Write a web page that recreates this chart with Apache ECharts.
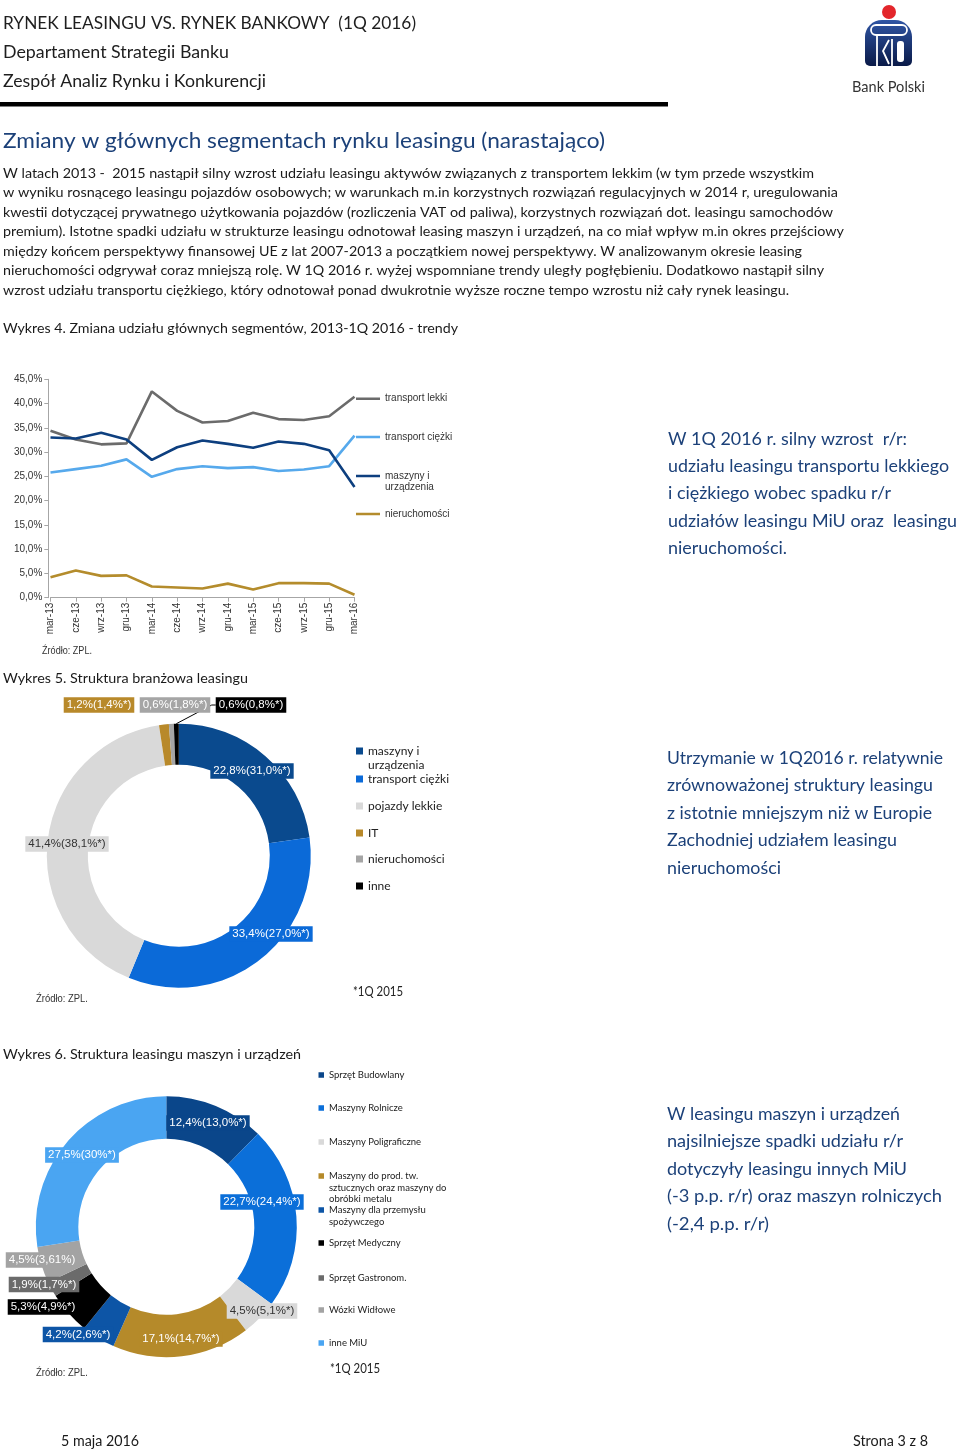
<!DOCTYPE html>
<html>
<head>
<meta charset="utf-8">
<script src="https://cdn.jsdelivr.net/npm/echarts@6/dist/echarts.min.js"></script>
<style>
html,body{margin:0;padding:0;background:#fff;}
.layer{position:absolute;left:0;top:0;width:960px;height:1453px;}
</style>
</head>
<body>
<div id="page" class="layer"></div>
<div id="lineChart" class="layer"></div>
<div id="pie1" class="layer"></div>
<div id="pie2" class="layer"></div>
<script>
// ---------------- DATA ----------------
const categories = ['mar-13','cze-13','wrz-13','gru-13','mar-14','cze-14','wrz-14','gru-14','mar-15','cze-15','wrz-15','gru-15','mar-16'];
const transportLekki    = [34.4,32.6,31.6,31.8,42.5,38.5,36.1,36.4,38.1,36.8,36.6,37.4,41.4];
const transportCiezki   = [25.8,26.5,27.2,28.5,24.9,26.5,27.1,26.7,26.9,26.1,26.4,27.1,33.4];
const maszynyUrzadzenia = [33.0,32.8,34.0,32.6,28.4,31.0,32.4,31.7,30.9,32.2,31.7,30.4,22.8];
const nieruchomosci     = [4.2,5.6,4.5,4.6,2.3,2.1,1.9,2.9,1.7,3.0,3.0,2.9,0.6];
const lineSeriesNames = ['transport lekki','transport ciężki','maszyny i urządzenia','nieruchomości'];
const yAxisMin = 0, yAxisMax = 45, yAxisStep = 5;

const pie1Names  = ['maszyny i\nurządzenia','transport ciężki','pojazdy lekkie','IT','nieruchomości','inne'];
const pie1Values = [22.8,33.4,41.4,1.2,0.6,0.6];
const pie1Prev   = ['31,0%*','27,0%*','38,1%*','1,4%*','1,8%*','0,8%*'];

const pie2Names  = ['Sprzęt Budowlany','Maszyny Rolnicze','Maszyny Poligraficzne',
  'Maszyny do prod. tw.\nsztucznych oraz maszyny do\nobróbki metalu',
  'Maszyny dla przemysłu\nspożywczego','Sprzęt Medyczny','Sprzęt Gastronom.','Wózki Widłowe','inne MiU'];
const pie2Values = [12.4,22.7,4.5,17.1,4.2,5.3,1.9,4.5,27.5];
const pie2Prev   = ['13,0%*','24,4%*','5,1%*','14,7%*','2,6%*','4,9%*','1,7%*','3,61%','30%*'];

// ---------------- STYLES / LAYOUT ----------------
const NAVY_TXT = '#1c4179';
const lineColors = ['#6b6b6b','#56a9ec','#0d3f7f','#b48c2c'];
const pie1Colors = ['#0a4a8e','#0b6ad8','#d9d9d9','#b8892a','#a5a5a5','#000000'];
const pie1LabelColors = ['#fff','#fff','#333','#fff','#fff','#fff'];
const pie2Colors = ['#0a468a','#0b6fd9','#d9d9d9','#b58a2a','#0d55a6','#000000','#6b6b6b','#a3a3a3','#4aa5f2'];
const pie2LabelColors = ['#fff','#fff','#333','#fff','#fff','#fff','#fff','#fff','#fff'];
const pie1LabelPos = [[252,771],[271,934],[67,844],[99,705],[175,705],[251,705]];
const pie2LabelPos = [[208,1123],[262,1202],[262,1311],[181,1339],[78,1334.5],[43,1307],[44,1284.5],[42,1260],[82,1155]];
const pie1LegendTop = [751,779,806,833,859,886];          // first-line centres
const pie2LegendTop = [1075,1108,1142,1176,1210,1243,1278,1310,1343];
const lineLegendTop = [398.7,437,476,514];

const measureCtx = document.createElement('canvas').getContext('2d');
function txt(text, x, y, size, color, width, opts) {
  opts = opts || {};
  const family = opts.family || 'Lato';
  const font = (opts.weight || 'normal') + ' ' + size + 'px ' + family;
  measureCtx.font = font;
  const mw = measureCtx.measureText(text).width;
  const sx = width ? width / mw : 1;
  const align = opts.align || 'left';
  return {type:'text', x:x, y:y, scaleX:sx, silent:true,
    style:{text:text, font:font, fill:color, align:align, verticalAlign:'middle', textAlign:align, textVerticalAlign:'middle'}};
}

// ---------------- PAGE (texts, logo) ----------------
const paragraph = [
  ['W latach 2013 -  2015 nastąpił silny wzrost udziału leasingu aktywów związanych z transportem lekkim (w tym przede wszystkim', 811],
  ['w wyniku rosnącego leasingu pojazdów osobowych; w warunkach m.in korzystnych rozwiązań regulacyjnych w 2014 r, uregulowania', 835],
  ['kwestii dotyczącej prywatnego użytkowania pojazdów (rozliczenia VAT od paliwa), korzystnych rozwiązań dot. leasingu samochodów', 830],
  ['premium). Istotne spadki udziału w strukturze leasingu odnotował leasing maszyn i urządzeń, na co miał wpływ m.in okres przejściowy', 841],
  ['między końcem perspektywy finansowej UE z lat 2007-2013 a początkiem nowej perspektywy. W analizowanym okresie leasing', 799],
  ['nieruchomości odgrywał coraz mniejszą rolę. W 1Q 2016 r. wyżej wspomniane trendy uległy pogłębieniu. Dodatkowo nastąpił silny', 821],
  ['wzrost udziału transportu ciężkiego, który odnotował ponad dwukrotnie wyższe roczne tempo wzrostu niż cały rynek leasingu.', 786]
];
const side1 = [['W 1Q 2016 r. silny wzrost  r/r:',239],['udziału leasingu transportu lekkiego',281],['i ciężkiego wobec spadku r/r',223],['udziałów leasingu MiU oraz  leasingu',289],['nieruchomości.',119]];
const side2 = [['Utrzymanie w 1Q2016 r. relatywnie',276],['zrównoważonej struktury leasingu',266],['z istotnie mniejszym niż w Europie',265],['Zachodniej udziałem leasingu',230],['nieruchomości',114]];
const side3 = [['W leasingu maszyn i urządzeń',233],['najsilniejsze spadki udziału r/r',236],['dotyczyły leasingu innych MiU',240],['(-3 p.p. r/r) oraz maszyn rolniczych',275],['(-2,4 p.p. r/r)',102]];

const els = [];
els.push(txt('RYNEK LEASINGU VS. RYNEK BANKOWY  (1Q 2016)', 3, 24, 17, '#1e1e1e', 413));
els.push(txt('Departament Strategii Banku', 3, 53, 17, '#1e1e1e', 226));
els.push(txt('Zespół Analiz Rynku i Konkurencji', 3, 82, 17, '#1e1e1e', 263));
els.push({type:'rect', silent:true, shape:{x:0, y:102, width:668, height:4.5}, style:{fill:'#000'}});
// logo
els.push({type:'circle', silent:true, shape:{cx:889, cy:12, r:7}, style:{fill:'#e3262b'}});
els.push({type:'rect', silent:true, shape:{x:865, y:20, width:47, height:46, r:[17,17,5,5]},
  style:{fill:{type:'linear', x:0, y:0, x2:0, y2:1, colorStops:[{offset:0,color:'#2f55a4'},{offset:1,color:'#0a1a48'}]}}});
els.push({type:'rect', silent:true, shape:{x:871, y:25, width:36, height:10, r:5}, style:{fill:'none', stroke:'#fff', lineWidth:1.8}});
els.push({type:'line', silent:true, shape:{x1:877, y1:35, x2:877, y2:66}, style:{stroke:'#fff', lineWidth:1.8}});
els.push({type:'line', silent:true, shape:{x1:892, y1:39, x2:892, y2:66}, style:{stroke:'#fff', lineWidth:1.8}});
els.push({type:'polyline', silent:true, shape:{points:[[889,40],[883,51],[889,64]]}, style:{fill:'none', stroke:'#fff', lineWidth:1.8}});
els.push({type:'rect', silent:true, shape:{x:897, y:41, width:7, height:21, r:3}, style:{fill:'#fff'}});
els.push(txt('Bank Polski', 852, 87, 15, '#333', 73));
// title + paragraph
els.push(txt('Zmiany w głównych segmentach rynku leasingu (narastająco)', 3, 141, 21, NAVY_TXT, 602));
paragraph.forEach((p, i) => els.push(txt(p[0], 3, 173.3 + i * 19.5, 14, '#1a1a1a', p[1])));
els.push(txt('Wykres 4. Zmiana udziału głównych segmentów, 2013-1Q 2016 - trendy', 3, 328, 14, '#1a1a1a', 455));
els.push(txt('Wykres 5. Struktura branżowa leasingu', 3, 678, 14, '#1a1a1a', 245));
els.push(txt('Wykres 6. Struktura leasingu maszyn i urządzeń', 3, 1054, 14, '#1a1a1a', 298));
side1.forEach((s, i) => els.push(txt(s[0], 668, 439 + i * 27.3, 18, NAVY_TXT, s[1])));
side2.forEach((s, i) => els.push(txt(s[0], 667, 758 + i * 27.5, 18, NAVY_TXT, s[1])));
side3.forEach((s, i) => els.push(txt(s[0], 667, 1114 + i * 27.5, 18, NAVY_TXT, s[1])));
els.push(txt('Źródło: ZPL.', 42, 651, 10, '#333', 50, {family:'Liberation Sans'}));
els.push(txt('Źródło: ZPL.', 36, 999, 10, '#333', 52, {family:'Liberation Sans'}));
els.push(txt('Źródło: ZPL.', 36, 1373, 10, '#333', 52, {family:'Liberation Sans'}));
els.push(txt('*1Q 2015', 353, 992, 13, '#222', 50));
els.push(txt('*1Q 2015', 330, 1369, 13, '#222', 50));
els.push(txt('5 maja 2016', 61, 1441, 14.5, '#1a1a1a', 78));
els.push(txt('Strona 3 z 8', 928, 1441, 14.5, '#1a1a1a', 75, {align:'right'}));

echarts.init(document.getElementById('page')).setOption({
  animation:false, backgroundColor:'#fff', graphic:{elements:els}
});

// ---------------- LINE CHART ----------------
const lineData = [transportLekki, transportCiezki, maszynyUrzadzenia, nieruchomosci];
function iconPath(w, h, lineH, nLines) {
  // marker drawn at the first text line; invisible anchors stretch the box to the text height
  const c = lineH / 2, total = lineH * nLines;
  return 'path://M0,' + (c - h / 2) + 'H' + w + 'V' + (c + h / 2) + 'H0Z M0,0H0.01 M0,' + total + 'H0.01';
}
const lineLegends = lineSeriesNames.map((n, i) => {
  const lines = i === 2 ? 2 : 1;
  return {
    data:[n], orient:'vertical', left:356, top:lineLegendTop[i] - 5.6, padding:0,
    itemWidth:24, itemHeight:11.2 * lines, icon:iconPath(24, 2.5, 11.2, lines),
    itemStyle:{borderWidth:0}, selectedMode:false,
    formatter: nm => nm === 'maszyny i urządzenia' ? 'maszyny i\nurządzenia' : nm,
    textStyle:{fontFamily:'Liberation Sans', fontSize:10, lineHeight:11.2, color:'#333'}
  };
});
echarts.init(document.getElementById('lineChart')).setOption({
  animation:false, backgroundColor:'transparent',
  grid:{left:50.5, top:379.3, width:304, height:218.4, containLabel:false},
  xAxis:{type:'category', data:categories, boundaryGap:false,
    axisLine:{lineStyle:{color:'#a6a6a6', width:1}},
    axisTick:{show:true, length:4, lineStyle:{color:'#a6a6a6'}},
    axisLabel:{interval:0, rotate:90, margin:5, fontFamily:'Liberation Sans', fontSize:10, color:'#333'}},
  yAxis:{type:'value', min:yAxisMin, max:yAxisMax, interval:yAxisStep, offset:2.2,
    axisLine:{show:true, lineStyle:{color:'#a6a6a6', width:1}},
    axisTick:{show:true, length:4, lineStyle:{color:'#a6a6a6'}},
    splitLine:{show:false},
    axisLabel:{margin:6, fontFamily:'Liberation Sans', fontSize:10, color:'#333',
      formatter: v => v.toFixed(1).replace('.', ',') + '%'}},
  legend:lineLegends,
  series:lineSeriesNames.map((n, i) => ({
    name:n, type:'line', data:lineData[i], symbol:'none', smooth:false,
    lineStyle:{width:2.6, color:lineColors[i]}, itemStyle:{color:lineColors[i]},
    emphasis:{disabled:true}
  }))
});

// ---------------- PIES ----------------
const fmtPct = v => v.toFixed(1).replace('.', ',') + '%';
function pieOption(names, values, prev, colors, labelColors, labelPos, legendTops, cfg) {
  const data = names.map((n, i) => {
    const d = {name:n, value:values[i], itemStyle:{color:colors[i]},
      label:{backgroundColor:colors[i], color:labelColors[i]}};
    if (cfg.outsideIdx === i) {
      d.label.position = 'outside';
      d.labelLine = {show:true, length:4, length2:4, lineStyle:{color:'#000', width:1}};
    }
    return d;
  });
  const legends = names.map((n, i) => {
    const lines = n.split('\n').length;
    return {
      data:[n], orient:'vertical', left:cfg.legendLeft, top:legendTops[i] - cfg.lh / 2, padding:0,
      itemWidth:cfg.icon, itemHeight:cfg.lh * lines, icon:iconPath(cfg.icon, cfg.icon, cfg.lh, lines),
      itemStyle:{borderWidth:0}, selectedMode:false,
      textStyle:{fontFamily:'Lato', fontSize:cfg.fs, lineHeight:cfg.lh, color:'#222'}
    };
  });
  return {
    animation:false, backgroundColor:'transparent',
    legend:legends,
    series:[{
      type:'pie', center:cfg.center, radius:cfg.radius, startAngle:90, clockwise:true,
      avoidLabelOverlap:false, minShowLabelAngle:0, itemStyle:{borderWidth:0},
      emphasis:{disabled:true}, silent:true,
      label:{show:true, position:'inside', fontFamily:'Liberation Sans', fontSize:11.5, lineHeight:12.5,
        padding:[2,3,1,3], formatter: p => fmtPct(p.value) + '(' + prev[p.dataIndex] + ')'},
      labelLine:{show:false},
      labelLayout: p => ({x:labelPos[p.dataIndex][0], y:labelPos[p.dataIndex][1], align:'center', verticalAlign:'middle'}),
      data:data
    }]
  };
}
echarts.init(document.getElementById('pie1')).setOption(
  pieOption(pie1Names, pie1Values, pie1Prev, pie1Colors, pie1LabelColors, pie1LabelPos, pie1LegendTop,
    {center:[178.8,855.7], radius:[91,132], legendLeft:356, icon:7, lh:14, fs:12, outsideIdx:5}));
echarts.init(document.getElementById('pie2')).setOption(
  pieOption(pie2Names, pie2Values, pie2Prev, pie2Colors, pie2LabelColors, pie2LabelPos, pie2LegendTop,
    {center:[166.3,1226.8], radius:[88,130.5], legendLeft:318.5, icon:5.5, lh:11.5, fs:9.5, outsideIdx:-1}));
</script>
</body>
</html>
